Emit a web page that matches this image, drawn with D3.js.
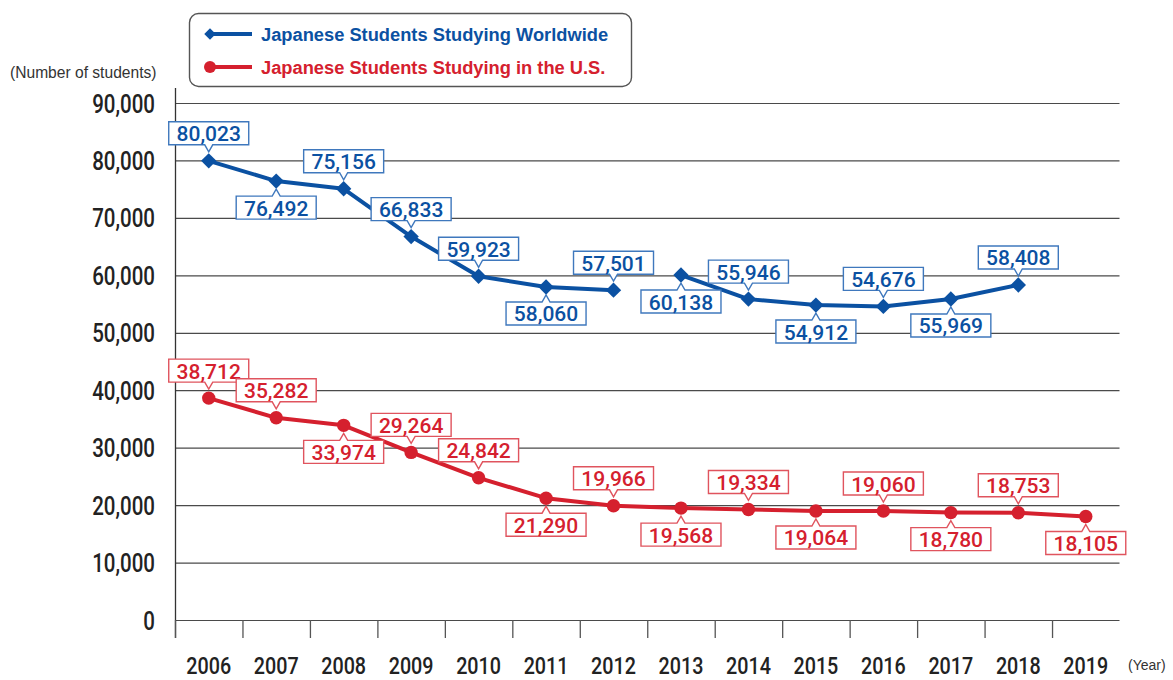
<!DOCTYPE html>
<html><head><meta charset="utf-8">
<script src="https://cdn.jsdelivr.net/npm/d3@7"></script>
<style>
html,body{margin:0;padding:0;background:#fff;}
svg{display:block;}
</style></head>
<body>
<svg id="chart" width="1173" height="680"></svg>
<script>
// ---- Data ----
const years = ["2006","2007","2008","2009","2010","2011","2012","2013","2014","2015","2016","2017","2018","2019"];
const worldwide = [80023, 76492, 75156, 66833, 59923, 58060, 57501, 60138, 55946, 54912, 54676, 55969, 58408, null];
const usa = [38712, 35282, 33974, 29264, 24842, 21290, 19966, 19568, 19334, 19064, 19060, 18780, 18753, 18105];
const yTicks = [0, 10000, 20000, 30000, 40000, 50000, 60000, 70000, 80000, 90000];
const seriesNames = ["Japanese Students Studying Worldwide", "Japanese Students Studying in the U.S."];
const yUnit = "(Number of students)";
const xUnit = "(Year)";

// ---- Layout / style config ----
const blueBreakAfter = "2012"; // worldwide line is interrupted between 2012 and 2013
const wwSide = ["up","down","up","up","up","down","up","down","up","down","up","down","up"];
const usSide = ["up","up","down","up","up","down","up","down","up","down","up","down","up","down"];
const BLUE = "#0b51a2", RED = "#d5202e";
const BLUE_BOX = "#3f78bd", RED_BOX = "#e0545e";
const tickFont = "Roboto,'Liberation Sans',sans-serif";
const SQUEEZE = 0.82;

const svg = d3.select("#chart");
const x = d3.scaleBand().domain(years).range([175, 1119.5]).padding(0);
const y = d3.scaleLinear().domain([0, 90000]).range([620.5, 103.5]);
const cx = d => x(d) + x.bandwidth()/2;

// gridlines
svg.append("g").selectAll("line").data(yTicks).join("line")
  .attr("x1", 175).attr("x2", 1119.5)
  .attr("y1", d => y(d)).attr("y2", d => y(d))
  .attr("stroke", "#4a4a4a").attr("stroke-width", 1.2);

// y axis line
svg.append("line").attr("x1", 175.5).attr("x2", 175.5).attr("y1", 88).attr("y2", 638)
  .attr("stroke", "#333").attr("stroke-width", 1.3);

// x ticks (band boundaries)
svg.append("g").selectAll("line").data(years).join("line")
  .attr("x1", d => x(d) + 0.5).attr("x2", d => x(d) + 0.5)
  .attr("y1", 620).attr("y2", 638)
  .attr("stroke", "#555").attr("stroke-width", 1.3);

// y tick labels (condensed by horizontal squeeze)
const fmt = d3.format(",");
svg.append("g").selectAll("text").data(yTicks).join("text")
  .attr("transform", d => `translate(155,${y(d) + 9}) scale(${SQUEEZE},1)`)
  .attr("text-anchor", "end")
  .attr("font-family", tickFont).attr("font-size", 25).attr("font-weight", 500)
  .attr("fill", "#222").text(d => fmt(d));

// x tick labels
svg.append("g").selectAll("text").data(years).join("text")
  .attr("transform", d => `translate(${cx(d)},673.5) scale(0.84,1)`)
  .attr("text-anchor", "middle")
  .attr("font-family", tickFont).attr("font-size", 23.5).attr("font-weight", 500)
  .attr("fill", "#222").text(d => d);

// unit labels
svg.append("text").attr("x", 10).attr("y", 78).text(yUnit)
  .attr("font-family", "'Liberation Sans',Arial,sans-serif").attr("font-size", 15.6).attr("fill", "#333");
svg.append("text").attr("x", 1128).attr("y", 670).text(xUnit)
  .attr("font-family", "'Liberation Sans',Arial,sans-serif").attr("font-size", 14).attr("fill", "#333");

// lines
const wwData = years.map((yr, i) => ({yr, v: worldwide[i]})).filter(d => d.v != null);
const usData = years.map((yr, i) => ({yr, v: usa[i]}));
const line = d3.line().x(d => cx(d.yr)).y(d => y(d.v));
const breakIdx = wwData.findIndex(d => d.yr === blueBreakAfter);
const wwSegs = [wwData.slice(0, breakIdx + 1), wwData.slice(breakIdx + 1)];

svg.append("g").selectAll("path").data(wwSegs).join("path")
  .attr("d", line).attr("fill", "none").attr("stroke", BLUE).attr("stroke-width", 4).attr("stroke-linejoin", "round");
svg.append("path").datum(usData).attr("d", line)
  .attr("fill", "none").attr("stroke", RED).attr("stroke-width", 4).attr("stroke-linejoin", "round");

// markers: diamond = rotated square
const sq = d3.symbol().type(d3.symbolSquare).size(118);
svg.append("g").selectAll("path").data(wwData).join("path")
  .attr("d", sq).attr("transform", d => `translate(${cx(d.yr)},${y(d.v)}) rotate(45)`).attr("fill", BLUE);
svg.append("g").selectAll("circle").data(usData).join("circle")
  .attr("cx", d => cx(d.yr)).attr("cy", d => y(d.v)).attr("r", 6.7).attr("fill", RED);

// callout labels
function callouts(data, sides, textColor, boxColor) {
  const W = 80, H = 23, N = 7, HW = 4;
  const g = svg.append("g");
  data.forEach((d, i) => {
    const px = cx(d.yr), py = y(d.v), side = sides[i];
    const x0 = px - W/2, x1 = px + W/2;
    let path, ty;
    if (side === "up") {
      const yb = py - 16, yt = yb - H;
      path = `M${x0},${yt}H${x1}V${yb}H${px+HW}L${px},${yb+N}L${px-HW},${yb}H${x0}Z`;
      ty = yb - 3.5;
    } else {
      const yt = py + 15, yb = yt + H;
      path = `M${x0},${yt}H${px-HW}L${px},${yt-N}L${px+HW},${yt}H${x1}V${yb}H${x0}Z`;
      ty = yb - 3.5;
    }
    g.append("path").attr("d", path).attr("fill", "#fff").attr("stroke", boxColor).attr("stroke-width", 1.4);
    g.append("text").attr("x", px).attr("y", ty).attr("text-anchor", "middle")
      .attr("font-family", "Roboto,'Liberation Sans',sans-serif").attr("font-weight", 500)
      .attr("font-size", 21).attr("fill", textColor).text(fmt(d.v));
  });
}
callouts(wwData, wwSide, BLUE, BLUE_BOX);
callouts(usData, usSide, RED, RED_BOX);

// legend
const lg = svg.append("g");
lg.append("rect").attr("x", 189.5).attr("y", 13.5).attr("width", 442).attr("height", 73).attr("rx", 9)
  .attr("fill", "#fff").attr("stroke", "#555").attr("stroke-width", 1.4);
const legendItems = [
  {name: seriesNames[0], color: BLUE, sym: "diamond", yy: 34},
  {name: seriesNames[1], color: RED, sym: "circle", yy: 67}
];
legendItems.forEach(it => {
  lg.append("line").attr("x1", 210).attr("x2", 252).attr("y1", it.yy).attr("y2", it.yy)
    .attr("stroke", it.color).attr("stroke-width", 4);
  if (it.sym === "diamond") {
    lg.append("path").attr("d", d3.symbol().type(d3.symbolSquare).size(66)())
      .attr("transform", `translate(210,${it.yy}) rotate(45)`).attr("fill", it.color);
  } else {
    lg.append("circle").attr("cx", 210).attr("cy", it.yy).attr("r", 6).attr("fill", it.color);
  }
  lg.append("text").attr("x", 261).attr("y", it.yy + 6.5).text(it.name)
    .attr("font-family", "'Liberation Sans',Arial,sans-serif").attr("font-weight", "bold")
    .attr("font-size", 18.3).attr("fill", it.color);
});
</script>
</body></html>
